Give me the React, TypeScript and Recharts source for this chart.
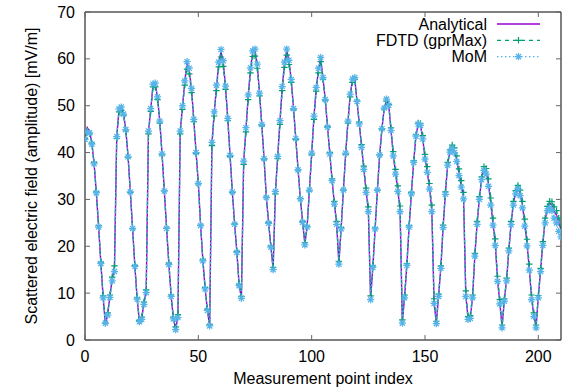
import React from 'react';
import { LineChart, Line, XAxis, YAxis, Legend, Label } from 'recharts';

// Measurement point indices 0..210
const pointIndex: number[] = Array.from({ length: 211 }, (_, i) => i);

const analytical: number[] = [
  43.0, 45.3, 44.5, 42.1, 37.7, 31.4, 24.2, 16.4, 9.2, 3.2,
  5.5, 9.3, 13.0, 15.4, 43.4, 49.1, 49.5, 48.3, 44.9, 39.2,
  31.6, 23.8, 15.8, 8.8, 3.9, 4.6, 7.8, 10.3, 44.5, 49.2,
  54.4, 54.6, 51.8, 46.6, 39.7, 31.8, 23.8, 16.2, 9.4, 4.6,
  2.3, 5.0, 44.5, 49.8, 55.0, 59.2, 57.5, 53.5, 47.0, 40.0,
  33.5, 24.5, 17.0, 11.0, 6.4, 3.0, 42.0, 48.4, 54.0, 59.0,
  61.5, 59.3, 54.0, 47.2, 39.4, 31.6, 24.8, 18.8, 11.7, 9.0,
  38.0, 45.0, 52.0, 57.8, 61.5, 61.8, 58.7, 52.6, 46.0, 38.8,
  30.5, 25.0, 19.9, 15.2, 31.6, 39.1, 46.6, 53.9, 58.9, 61.9,
  59.5, 55.5, 49.4, 43.0, 36.4, 30.2, 25.2, 20.5, 24.2, 32.0,
  39.8, 47.6, 53.7, 57.6, 60.1, 55.8, 51.3, 45.5, 39.8, 34.1,
  29.2, 24.9, 16.4, 23.8, 32.0, 39.8, 46.6, 52.3, 55.5, 55.8,
  50.9, 46.2, 41.3, 36.6, 31.8, 27.7, 8.8, 15.6, 23.8, 32.0,
  39.5, 45.1, 49.4, 51.2, 50.1, 44.8, 39.5, 35.6, 32.0, 27.7,
  3.8, 9.2, 16.0, 24.2, 31.3, 38.0, 43.5, 46.0, 45.8, 43.0,
  38.8, 36.0, 32.4, 27.7, 8.0, 3.6, 9.5, 15.5, 24.2, 31.3,
  37.5, 40.3, 41.3, 40.5, 38.5, 35.5, 33.0, 30.5, 9.6, 4.6,
  4.8, 9.2, 18.1, 24.9, 30.2, 34.5, 36.6, 35.9, 33.4, 29.2,
  24.9, 20.6, 12.8, 8.0, 2.8, 8.5, 12.8, 19.2, 24.9, 29.2,
  31.6, 32.7, 31.3, 28.8, 24.9, 20.6, 15.3, 8.9, 5.3, 2.8,
  9.2, 14.9, 20.6, 25.6, 28.1, 29.2, 28.8, 27.4, 26.7, 25.2,
  23.5,
];

const fdtd: number[] = [
  43.0, 44.6, 44.0, 42.0, 37.9, 31.6, 24.4, 16.6, 9.4, 3.6,
  5.8, 9.6, 13.4, 15.8, 43.0, 48.7, 49.0, 48.0, 44.6, 39.0,
  31.5, 23.7, 15.9, 9.0, 4.2, 4.9, 8.1, 10.7, 44.0, 48.8,
  54.0, 54.0, 51.3, 46.3, 39.5, 31.8, 23.9, 16.4, 9.6, 4.9,
  2.8, 5.4, 44.0, 49.2, 54.4, 57.8, 56.8, 52.8, 46.6, 39.8,
  33.3, 24.5, 17.1, 11.2, 6.6, 3.3, 41.5, 47.8, 53.2, 58.3,
  60.4, 58.4, 53.5, 46.8, 39.2, 31.5, 24.8, 18.9, 11.9, 9.3,
  37.5, 44.4, 51.3, 57.0, 60.5, 60.6, 58.0, 52.1, 45.7, 38.6,
  30.5, 25.1, 20.1, 15.5, 31.2, 38.7, 46.0, 53.2, 58.2, 60.8,
  58.8, 55.0, 49.1, 42.8, 36.3, 30.2, 25.3, 20.8, 24.3, 31.8,
  39.5, 47.1, 53.1, 57.0, 59.4, 55.6, 51.2, 45.6, 40.0, 34.4,
  29.6, 25.3, 16.8, 24.0, 32.0, 39.6, 46.3, 51.9, 55.0, 55.6,
  51.0, 46.5, 41.7, 37.1, 32.4, 28.4, 9.4, 15.8, 23.9, 32.0,
  39.5, 45.0, 49.3, 51.0, 50.3, 45.3, 40.2, 36.4, 32.9, 28.6,
  4.3, 9.6, 16.3, 24.4, 31.5, 38.3, 43.8, 46.3, 46.2, 43.6,
  39.6, 37.0, 33.4, 28.8, 8.8, 4.0, 9.8, 15.8, 24.5, 31.6,
  37.9, 40.6, 41.6, 41.0, 39.3, 36.5, 34.0, 31.5, 10.5, 5.0,
  5.2, 9.6, 18.5, 25.3, 30.6, 34.8, 37.0, 36.6, 34.4, 30.3,
  26.0, 21.6, 13.6, 8.6, 3.2, 8.8, 13.2, 19.6, 25.3, 29.6,
  31.9, 33.0, 32.0, 29.6, 25.8, 21.5, 16.2, 9.6, 5.8, 3.2,
  9.5, 15.3, 21.0, 26.0, 28.5, 29.6, 29.5, 28.4, 27.6, 26.0,
  24.5,
];

const mom: number[] = [
  42.8, 44.4, 44.2, 41.8, 37.6, 31.4, 24.1, 16.3, 9.0, 3.6,
  5.3, 9.1, 12.6, 14.6, 43.4, 49.3, 49.7, 48.2, 44.9, 39.1,
  31.6, 23.8, 15.7, 8.7, 3.9, 4.4, 7.6, 10.1, 44.6, 49.4,
  54.6, 54.8, 51.9, 46.7, 39.7, 31.8, 23.8, 16.1, 9.3, 4.5,
  2.2, 4.8, 44.6, 50.0, 55.3, 59.4, 58.0, 53.7, 47.1, 40.0,
  33.4, 24.4, 16.9, 10.9, 6.3, 3.0, 42.2, 48.7, 54.4, 59.3,
  62.0, 59.6, 54.2, 47.3, 39.4, 31.6, 24.7, 18.7, 11.6, 8.9,
  38.2, 45.3, 52.3, 58.1, 61.7, 62.1, 58.9, 52.7, 46.0, 38.7,
  30.4, 24.9, 19.8, 15.0, 31.7, 39.2, 46.8, 54.1, 59.3, 62.1,
  59.7, 55.6, 49.4, 43.0, 36.3, 30.1, 25.1, 20.3, 24.1, 32.0,
  39.9, 47.8, 53.9, 58.0, 60.3, 56.0, 51.3, 45.4, 39.7, 34.0,
  29.0, 24.7, 16.2, 23.7, 32.0, 39.9, 46.7, 52.5, 55.7, 56.0,
  50.9, 46.1, 41.1, 36.4, 31.5, 27.4, 8.6, 15.5, 23.7, 32.0,
  39.5, 45.1, 49.5, 51.4, 50.1, 44.7, 39.3, 35.4, 31.7, 27.4,
  3.6, 9.0, 15.9, 24.1, 31.2, 37.9, 43.5, 46.1, 45.8, 42.9,
  38.6, 35.8, 32.2, 27.4, 7.8, 3.5, 9.3, 15.3, 24.0, 31.1,
  37.3, 40.1, 40.9, 40.0, 38.1, 35.1, 32.6, 30.1, 9.3, 4.4,
  4.6, 9.0, 17.9, 24.7, 30.0, 34.2, 36.2, 35.4, 32.8, 28.8,
  24.5, 20.2, 12.5, 7.7, 2.6, 8.3, 12.6, 19.0, 24.6, 28.8,
  31.2, 32.3, 30.8, 28.2, 24.3, 20.1, 14.9, 8.6, 5.0, 2.6,
  9.0, 14.6, 20.2, 25.0, 27.6, 28.2, 27.6, 26.0, 25.0, 23.2,
  22.0,
];

const xTicks: number[] = [0, 50, 100, 150, 200];
const yTicks: number[] = [0, 10, 20, 30, 40, 50, 60, 70];
const seriesNames: string[] = ['Analytical', 'FDTD (gprMax)', 'MoM'];
const xTitle = 'Measurement point index';
const yTitle = 'Scattered electric field (amplitude) [mV/m]';

const FONT = "'Liberation Sans', Arial, Helvetica, sans-serif";
const C_A = '#9400d3';
const C_F = '#009e73';
const C_M = '#56b4e9';
const BORDER = '#000000';
const TICK = '#666666';

const data = pointIndex.map((i) => ({ idx: i, a: analytical[i], f: fdtd[i], m: mom[i] }));

const plusPath = (cx: number, cy: number, r: number) =>
  `M${cx - r},${cy}h${2 * r}M${cx},${cy - r}v${2 * r}`;
const starPath = (cx: number, cy: number, r: number) => {
  const d = r * 0.72;
  return `M${cx - r},${cy}h${2 * r}M${cx},${cy - r}v${2 * r}M${cx - d},${cy - d}L${cx + d},${cy + d}M${cx - d},${cy + d}L${cx + d},${cy - d}`;
};

const PlusDot = (props: any) => {
  const { cx, cy, index } = props;
  if (cx == null || cy == null) return <g key={`p${index}`} />;
  return <path key={`p${index}`} d={plusPath(cx, cy, 3.2)} stroke={C_F} strokeWidth={1.2} fill="none" />;
};
const StarDot = (props: any) => {
  const { cx, cy, index } = props;
  if (cx == null || cy == null) return <g key={`s${index}`} />;
  return <path key={`s${index}`} d={starPath(cx, cy, 3.6)} stroke={C_M} strokeWidth={1.25} fill="none" />;
};

const txt = { fontFamily: FONT, fontSize: 16, fill: '#000' };

const BottomTick = (props: any) => {
  const { x, y, payload } = props;
  return (
    <g>
      <line x1={x} x2={x} y1={y} y2={y - 5} stroke={TICK} strokeWidth={1} />
      <text x={x} y={y + 22} textAnchor="middle" style={txt}>{payload.value}</text>
    </g>
  );
};
const TopTick = (props: any) => {
  const { x, y } = props;
  return <line x1={x} x2={x} y1={y} y2={y + 5} stroke={TICK} strokeWidth={1} />;
};
const LeftTick = (props: any) => {
  const { x, y, payload } = props;
  return (
    <g>
      <line x1={x} x2={x + 5} y1={y} y2={y} stroke={TICK} strokeWidth={1} />
      <text x={x - 10} y={y + 5.5} textAnchor="end" style={txt}>{payload.value}</text>
    </g>
  );
};
const RightTick = (props: any) => {
  const { x, y } = props;
  return <line x1={x} x2={x - 5} y1={y} y2={y} stroke={TICK} strokeWidth={1} />;
};

const YTitle = (props: any) => {
  const vb = props.viewBox || { x: 0, y: 12, width: 85, height: 328 };
  const cx = vb.x + 37;
  const cy = vb.y + vb.height / 2;
  return (
    <text x={cx} y={cy} transform={`rotate(-90 ${cx} ${cy})`} textAnchor="middle" style={txt}>
      {yTitle}
    </text>
  );
};

const legendItems = [
  { name: seriesNames[0], color: C_A, dash: undefined as string | undefined, marker: 'none' },
  { name: seriesNames[1], color: C_F, dash: '4 4', marker: 'plus' },
  { name: seriesNames[2], color: C_M, dash: '1.5 2.5', marker: 'star' },
];

const LegendContent = () => (
  <svg width={190} height={56} style={{ display: 'block' }}>
    {legendItems.map((it, i) => {
      const cy = 12 + i * 16.3;
      return (
        <g key={it.name}>
          <text x={117} y={cy + 5.5} textAnchor="end" style={txt}>{it.name}</text>
          <line x1={127} x2={170} y1={cy} y2={cy} stroke={it.color} strokeWidth={it.marker === 'none' ? 1.5 : 1.2} strokeDasharray={it.dash} />
          {it.marker === 'plus' && <path d={plusPath(148.5, cy, 3.2)} stroke={it.color} strokeWidth={1.2} />}
          {it.marker === 'star' && <path d={starPath(148.5, cy, 3.6)} stroke={it.color} strokeWidth={1.25} />}
        </g>
      );
    })}
  </svg>
);

export default function App() {
  return (
    <div style={{ position: 'absolute', left: 0, top: 0, background: '#fff' }}>
      <LineChart width={568} height={388} data={data} margin={{ top: 0, right: 0, bottom: 0, left: 0 }}>
        <XAxis
          xAxisId="b"
          dataKey="idx"
          type="number"
          domain={[0, 210]}
          ticks={xTicks}
          interval={0}
          allowDataOverflow
          height={48}
          axisLine={{ stroke: BORDER, strokeWidth: 1 }}
          tickLine={false}
          tickSize={0}
          tickMargin={0}
          tick={BottomTick}
        >
          <Label value={xTitle} position="insideBottom" offset={4} style={txt} />
        </XAxis>
        <XAxis
          xAxisId="t"
          orientation="top"
          dataKey="idx"
          type="number"
          domain={[0, 210]}
          ticks={xTicks}
          interval={0}
          allowDataOverflow
          height={12}
          axisLine={{ stroke: BORDER, strokeWidth: 1 }}
          tickLine={false}
          tickSize={0}
          tickMargin={0}
          tick={TopTick}
        />
        <YAxis
          yAxisId="l"
          type="number"
          domain={[0, 70]}
          ticks={yTicks}
          interval={0}
          allowDataOverflow
          width={85}
          axisLine={{ stroke: BORDER, strokeWidth: 1 }}
          tickLine={false}
          tickSize={0}
          tickMargin={0}
          tick={LeftTick}
        >
          <Label content={YTitle} />
        </YAxis>
        <YAxis
          yAxisId="r"
          orientation="right"
          type="number"
          domain={[0, 70]}
          ticks={yTicks}
          interval={0}
          allowDataOverflow
          width={7}
          axisLine={{ stroke: BORDER, strokeWidth: 1 }}
          tickLine={false}
          tickSize={0}
          tickMargin={0}
          tick={RightTick}
        />
        <Legend
          layout="vertical"
          align="center"
          verticalAlign="middle"
          wrapperStyle={{ left: 370, top: 12, width: 190, height: 56 }}
          content={LegendContent}
        />
        <Line
          xAxisId="b"
          yAxisId="l"
          type="linear"
          dataKey="a"
          name={seriesNames[0]}
          stroke={C_A}
          strokeWidth={1.4}
          dot={false}
          activeDot={false}
          isAnimationActive={false}
        />
        <Line
          xAxisId="b"
          yAxisId="l"
          type="linear"
          dataKey="f"
          name={seriesNames[1]}
          stroke={C_F}
          strokeWidth={1.2}
          strokeDasharray="4 4"
          dot={PlusDot}
          activeDot={false}
          isAnimationActive={false}
        />
        <Line
          xAxisId="b"
          yAxisId="l"
          type="linear"
          dataKey="m"
          name={seriesNames[2]}
          stroke={C_M}
          strokeWidth={1.2}
          strokeDasharray="1.5 2.5"
          dot={StarDot}
          activeDot={false}
          isAnimationActive={false}
        />
      </LineChart>
    </div>
  );
}
